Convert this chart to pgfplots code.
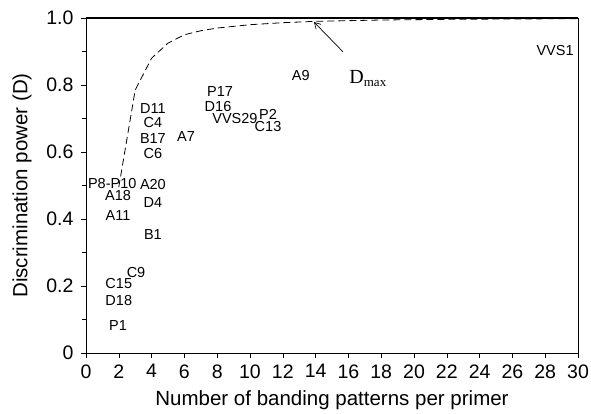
\documentclass[border=0pt]{standalone}
\usepackage{fontspec}
\setmainfont{Liberation Sans}
\newfontfamily\seriffont{Liberation Serif}
\usepackage{pgfplots}
\usepackage{pgfplotstable}
\pgfplotsset{compat=1.18}
\usetikzlibrary{arrows.meta}

% primer labels, placed at (number of patterns, D)
\pgfplotstableread{
x     y      label
1.95  0.081  P1
2.00  0.158  D18
2.00  0.206  C15
3.05  0.239  C9
4.08  0.355  B1
1.95  0.409  A11
4.08  0.448  D4
1.95  0.469  A18
1.60  0.507  P8-P10
4.08  0.504  A20
4.08  0.594  C6
4.08  0.639  B17
4.08  0.687  C4
4.08  0.731  D11
6.10  0.645  A7
8.17  0.782  P17
8.05  0.737  D16
9.08  0.701  VVS29
11.10 0.713  P2
11.10 0.675  C13
13.10 0.827  A9
28.60 0.904  VVS1
}\primers

% maximum discrimination power curve
\pgfplotstableread{
x   y
2   0.495
3   0.785
4   0.880
5   0.925
6   0.950
7   0.962
8   0.970
10  0.980
12  0.986
14  0.990
18  0.994
22  0.996
30  0.998
}\dmax

\begin{document}
\begin{tikzpicture}
\begin{axis}[
    width=492pt, height=335pt, scale only axis,
    xmin=0, xmax=30, ymin=0, ymax=1,
    xtick={0,2,...,30},
    ytick={0,0.2,0.4,0.6,0.8,1.0},
    yticklabels={0,0.2,0.4,0.6,0.8,1.0},
    minor ytick={0.1,0.3,0.5,0.7,0.9},
    tick pos=left, tick align=outside,
    major tick length=5pt, minor tick length=4pt,
    tick style={black, line width=0.6pt},
    axis line style={line width=0.6pt},
    /pgf/number format/assume math mode=true,
    ticklabel style={font=\fontsize{19.5}{22}\selectfont},
    xticklabel style={yshift=-3pt},
    yticklabel style={xshift=-4pt},
    xlabel={Number of banding patterns per primer},
    ylabel={Discrimination power (D)},
    every axis x label/.style={at={(axis description cs:0.5,0)}, yshift=-47pt,
        anchor=center, font=\fontsize{20.5}{24}\selectfont},
    every axis y label/.style={at={(axis description cs:0,0.5)}, xshift=-64pt,
        rotate=90, anchor=center, font=\fontsize{20.5}{24}\selectfont},
    clip=false,
]
\addplot[only marks, mark size=0pt, mark options={draw=none},
    nodes near coords, point meta=explicit symbolic,
    nodes near coords style={anchor=center, inner sep=0pt,
        font=\fontsize{14.5}{16}\selectfont}]
    table[x=x, y=y, meta=label] {\primers};
\addplot[black, line width=0.8pt, dash pattern=on 7pt off 4pt] table[x=x, y=y] {\dmax};
\draw[line width=1.5pt] (axis cs:0,1) -- (axis cs:30,1);
\draw[line width=0.7pt, -{Straight Barb[length=6pt, width=7pt]}]
    (axis cs:15.67,0.899) -- (axis cs:13.9,0.988);
\node[font=\seriffont\fontsize{20}{22}\selectfont, anchor=center]
    at (axis cs:17.2,0.82) {D\textsubscript{\fontsize{13}{14}\selectfont max}};
\end{axis}
\pgfresetboundingbox
\path ([shift={(-86pt,-61pt)}]current axis.south west)
    rectangle ([shift={(13pt,18pt)}]current axis.north east);
\end{tikzpicture}
\end{document}
